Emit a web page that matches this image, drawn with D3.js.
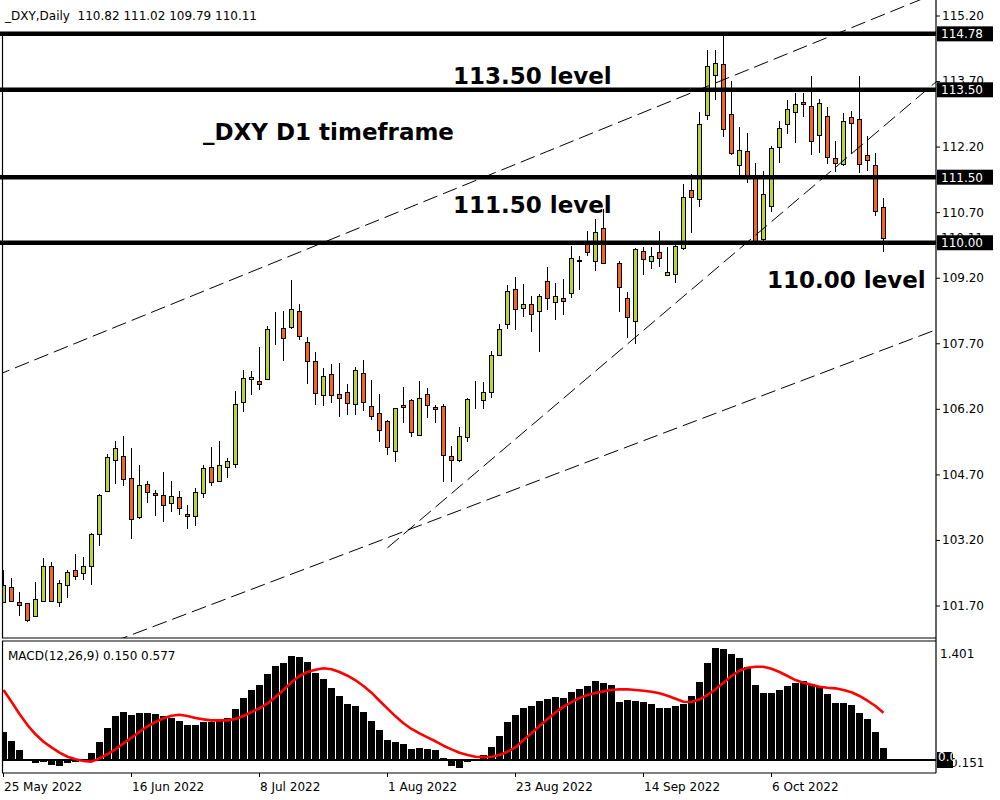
<!DOCTYPE html>
<html><head><meta charset="utf-8">
<script src="https://cdn.jsdelivr.net/npm/d3@7"></script>
<style>
html,body{margin:0;padding:0;background:#fff;}
svg{display:block;}
text{font-family:"DejaVu Sans",Verdana,sans-serif;}
</style></head><body>
<svg id="chart" width="1000" height="800"></svg>
<script>
// ---------- DATA ----------
const open  = [101.78,102.12,101.77,101.75,101.45,101.80,102.60,101.77,102.16,102.51,102.44,102.60,103.33,104.31,105.02,105.11,104.61,103.72,104.47,104.27,
104.22,104.04,104.18,103.79,103.74,104.27,104.86,104.54,104.86,104.93,106.35,106.88,106.83,106.88,107.99,108.04,108.07,108.43,107.74,107.29,
106.51,106.99,106.53,106.58,106.30,107.01,106.26,106.10,105.92,105.23,106.28,106.40,105.59,106.53,106.24,106.26,105.11,105.04,105.55,106.37,
106.40,106.58,107.43,108.14,108.94,108.51,108.60,108.44,109.12,108.64,108.73,108.85,109.60,110.02,109.58,110.34,110.03,109.53,108.73,108.21,
109.81,109.58,109.79,109.26,109.28,109.89,111.20,110.99,112.92,113.83,114.08,112.94,111.77,112.09,111.50,110.08,110.83,112.18,112.71,112.99,
113.21,113.14,112.46,112.89,111.93,111.80,112.87,112.83,112.00,111.77,110.82];
const high  = [102.51,102.32,102.00,101.76,102.24,102.79,102.70,102.28,102.51,102.88,102.81,103.37,104.24,105.16,105.46,105.57,105.30,104.91,104.54,104.34,
104.75,104.56,104.31,104.01,104.38,104.91,105.32,105.46,105.07,106.60,107.08,107.06,107.61,108.09,108.41,108.43,109.14,108.59,107.84,107.49,
107.13,107.22,107.24,106.76,107.15,107.31,106.85,106.53,105.95,106.23,106.69,106.42,106.83,106.67,106.28,106.31,105.34,105.78,106.45,106.84,
106.81,107.52,108.14,109.03,109.22,109.05,108.78,108.83,109.45,109.08,109.17,109.92,109.70,110.27,110.54,110.77,110.05,109.58,108.87,109.87,
109.90,109.90,110.27,109.90,109.99,111.34,111.57,112.99,114.40,114.40,114.73,113.69,112.64,112.51,111.82,111.64,112.21,112.78,113.26,113.42,
113.42,113.81,113.28,113.10,112.32,112.96,113.01,113.81,112.44,112.05,111.02];
const low   = [101.76,101.80,101.46,101.33,101.43,101.79,101.77,101.67,101.88,102.28,102.29,102.17,103.07,104.29,104.49,104.44,103.23,103.67,104.04,103.74,
103.62,103.85,103.76,103.44,103.53,104.15,104.43,104.53,104.61,104.84,106.13,106.52,106.64,106.87,107.67,107.29,108.02,107.77,106.76,106.28,
106.26,106.33,106.01,106.07,106.07,106.14,105.94,105.43,105.14,104.98,105.87,105.55,105.58,105.98,105.87,104.53,104.53,104.98,105.45,106.20,
106.20,106.45,107.41,108.02,108.00,108.30,107.96,107.50,108.46,108.23,108.35,108.73,108.92,109.70,109.35,109.51,109.95,108.41,107.82,107.68,
109.26,109.40,109.45,109.24,109.08,109.83,110.22,110.82,112.82,113.26,112.43,112.00,111.54,111.36,110.02,110.05,110.71,111.83,112.48,112.28,
112.88,112.00,112.05,111.80,111.61,111.75,112.02,111.59,111.64,110.62,109.79];
const close = [102.16,101.81,101.72,101.36,101.84,102.60,101.80,102.21,102.46,102.37,102.60,103.33,104.22,105.09,105.30,104.59,103.67,104.45,104.29,104.22,
104.01,104.20,103.92,103.74,104.29,104.84,104.52,104.91,105.00,106.30,106.90,106.92,106.76,108.02,107.98,107.81,108.48,107.86,107.29,106.56,
106.94,106.51,106.44,106.33,107.08,106.35,106.03,105.71,105.32,106.21,106.24,105.66,106.44,106.28,106.19,105.14,105.02,105.57,106.42,106.38,
106.58,107.43,108.02,108.90,108.48,108.60,108.37,108.78,108.73,108.78,108.67,109.65,109.58,109.79,110.25,109.54,109.97,108.99,108.30,109.86,
109.63,109.70,109.65,109.33,109.92,111.04,111.04,112.71,114.04,114.11,112.60,112.05,112.12,111.53,110.04,111.11,112.16,112.62,113.05,113.17,
113.17,112.32,113.19,111.96,111.82,112.78,112.73,111.80,111.89,110.72,110.11];

const macd = [0.345,0.235,0.122,0.010,-0.040,-0.025,-0.060,-0.073,-0.040,-0.020,0.010,0.080,0.220,0.386,0.536,0.585,0.548,0.572,0.572,0.560,
0.532,0.512,0.475,0.426,0.426,0.463,0.463,0.475,0.508,0.621,0.755,0.853,0.914,1.047,1.145,1.177,1.267,1.255,1.194,1.060,
0.987,0.877,0.780,0.682,0.658,0.585,0.475,0.365,0.244,0.219,0.191,0.134,0.146,0.134,0.122,0.024,-0.073,-0.097,-0.024,0.008,
0.057,0.158,0.292,0.463,0.548,0.633,0.658,0.719,0.743,0.767,0.755,0.828,0.865,0.901,0.962,0.938,0.914,0.706,0.731,0.719,
0.706,0.682,0.633,0.633,0.658,0.682,0.780,0.950,1.181,1.364,1.352,1.291,1.242,1.133,0.914,0.816,0.816,0.853,0.901,0.938,
0.962,0.926,0.889,0.804,0.694,0.694,0.670,0.572,0.499,0.341,0.150];
const signal = [0.853,0.710,0.560,0.426,0.313,0.223,0.154,0.089,0.040,0.008,-0.012,-0.020,0.020,0.073,0.130,0.203,0.272,0.345,0.410,0.463,
0.508,0.540,0.552,0.536,0.512,0.495,0.483,0.483,0.483,0.499,0.536,0.585,0.630,0.690,0.767,0.853,0.946,1.023,1.072,1.100,
1.117,1.105,1.072,1.027,0.971,0.901,0.820,0.722,0.625,0.532,0.447,0.378,0.325,0.276,0.228,0.174,0.130,0.089,0.061,0.040,
0.035,0.040,0.061,0.101,0.154,0.244,0.325,0.414,0.499,0.580,0.650,0.706,0.755,0.792,0.816,0.836,0.853,0.861,0.861,0.853,
0.844,0.832,0.812,0.783,0.747,0.710,0.706,0.739,0.792,0.861,0.942,1.023,1.088,1.124,1.136,1.136,1.112,1.072,1.023,0.974,
0.942,0.917,0.893,0.881,0.873,0.853,0.825,0.780,0.722,0.658,0.577];

const priceTicks = [115.20,113.70,112.20,110.70,109.20,107.70,106.20,104.70,103.20,101.70];
const levels = [114.78,113.50,111.50,110.00];
const levelNames = ["113.50 level","111.50 level","110.00 level"];
const lastPrice = 110.11;
const dateTickIdx = [0,16,32,48,64,80,96];
const dateTickLabels = ["25 May 2022","16 Jun 2022","8 Jul 2022","1 Aug 2022","23 Aug 2022","14 Sep 2022","6 Oct 2022"];
const macdTicks = [1.401,-0.151];
// trend lines: [barIndex, price] anchors
const trendA = [[0,107.03],[108,115.07]];
const trendB = [[15,100.96],[116,107.97]];
const trendC = [[48,103.02],[110,112.66]];
const headerText = "_DXY,Daily  110.82 111.02 109.79 110.11";
const macdText = "MACD(12,26,9) 0.150 0.577";

// ---------- LAYOUT ----------
const svg = d3.select('#chart');
const axisX = 936, mainBottom = 638, macdTop = 641, macdBottom = 773;
const UP = '#bcd431', DOWN = '#f26522';
const x  = d3.scaleLinear().domain([0,110]).range([3.5,883.5]);
const y  = d3.scaleLinear().domain([101.7,115.2]).range([605.5,15.5]);
const ym = d3.scaleLinear().domain([-0.151,1.401]).range([772.4,645]);

svg.append('rect').attr('width',1000).attr('height',800).attr('fill','#fff');
const defs = svg.append('defs');
defs.append('clipPath').attr('id','clipMain').append('rect').attr('x',2).attr('y',0).attr('width',axisX-2).attr('height',mainBottom);
defs.append('clipPath').attr('id','clipMacd').append('rect').attr('x',2).attr('y',macdTop).attr('width',axisX-2).attr('height',macdBottom-macdTop);

const idx = d3.range(open.length);
const gMain = svg.append('g').attr('clip-path','url(#clipMain)');

// candles
gMain.selectAll('line.wick').data(idx).join('line')
  .attr('x1',i=>x(i)).attr('x2',i=>x(i))
  .attr('y1',i=>Math.round(y(high[i]))).attr('y2',i=>Math.round(y(low[i])))
  .attr('stroke','#000').attr('stroke-width',1);
gMain.selectAll('rect.body').data(idx).join('rect')
  .attr('x',i=>x(i)-2).attr('width',4)
  .attr('y',i=>Math.round(y(Math.max(open[i],close[i])))+0.5)
  .attr('height',i=>Math.max(0,Math.round(y(Math.min(open[i],close[i])))-Math.round(y(Math.max(open[i],close[i])))))
  .attr('fill',i=>close[i]>=open[i]?UP:DOWN)
  .attr('stroke','#000').attr('stroke-width',1);

// trend lines
function trendPath(a, from, to){
  const s = (a[1][1]-a[0][1])/(a[1][0]-a[0][0]);
  const p = k => a[0][1] + s*(k-a[0][0]);
  return [[x(from),y(p(from))],[x(to),y(p(to))]];
}
const tl = [trendPath(trendA,-1,125),trendPath(trendB,-1,125),trendPath(trendC,48,125)];
gMain.selectAll('path.trend').data(tl).join('path')
  .attr('d',d=>d3.line()(d)).attr('fill','none')
  .attr('stroke','#000').attr('stroke-width',1).attr('stroke-dasharray','15,6');

// level lines
svg.selectAll('line.level').data(levels).join('line')
  .attr('x1',0).attr('x2',axisX).attr('y1',d=>y(d)).attr('y2',d=>y(d))
  .attr('stroke','#000').attr('stroke-width',4.5);

// MACD
const gM = svg.append('g').attr('clip-path','url(#clipMacd)');
gM.selectAll('rect.h').data(idx).join('rect')
  .attr('x',i=>x(i)-3.5).attr('width',7)
  .attr('y',i=>Math.round(Math.min(ym(macd[i]),ym(0))))
  .attr('height',i=>Math.max(1,Math.round(Math.abs(ym(macd[i])-ym(0)))))
  .attr('fill','#000');
gM.append('line').attr('x1',0).attr('x2',axisX).attr('y1',ym(0)).attr('y2',ym(0)).attr('stroke','#000').attr('stroke-width',2);
gM.append('path').datum(idx)
  .attr('d',d3.line().x(i=>x(i)).y(i=>ym(signal[i])))
  .attr('fill','none').attr('stroke','#ff0000').attr('stroke-width',2.6).attr('stroke-linejoin','round');

// frames
const fr = svg.append('g').attr('stroke','#000').attr('stroke-width',1.2);
fr.append('line').attr('x1',axisX).attr('x2',axisX).attr('y1',0).attr('y2',macdBottom);
fr.append('line').attr('x1',2.5).attr('x2',2.5).attr('y1',35).attr('y2',mainBottom);
fr.append('line').attr('x1',2.5).attr('x2',2.5).attr('y1',macdTop).attr('y2',macdBottom);
fr.append('line').attr('x1',2).attr('x2',axisX).attr('y1',mainBottom).attr('y2',mainBottom);
fr.append('line').attr('x1',2).attr('x2',axisX).attr('y1',macdTop).attr('y2',macdTop);
fr.append('line').attr('x1',2).attr('x2',axisX).attr('y1',macdBottom).attr('y2',macdBottom);

// price axis
const ya = svg.append('g').attr('transform',`translate(${axisX},0)`)
  .call(d3.axisRight(y).tickValues(priceTicks).tickFormat(d3.format('.2f')).tickSize(4).tickPadding(2));
ya.select('.domain').remove();
ya.selectAll('text').attr('font-family','"DejaVu Sans",Verdana,sans-serif').attr('font-size',12).attr('fill','#000');

// last price label (partly hidden)
svg.append('text').attr('x',axisX+5).attr('y',y(lastPrice)).attr('dy','0.35em')
  .attr('font-size',12).attr('fill','#000').text(d3.format('.2f')(lastPrice));

// level boxes
const lb = svg.selectAll('g.lbox').data(levels).join('g');
lb.append('rect').attr('x',axisX+1).attr('y',d=>y(d)-7.5).attr('width',56).attr('height',15).attr('fill','#000');
lb.append('text').attr('x',axisX+5).attr('y',d=>y(d)).attr('dy','0.36em').attr('font-size',12).attr('fill','#fff')
  .text(d=>d3.format('.2f')(d));

// MACD axis
const ma = svg.append('g').attr('transform',`translate(${axisX},0)`)
  .call(d3.axisRight(ym).tickValues(macdTicks).tickFormat(d3.format('.3f')).tickSize(0).tickPadding(4));
ma.select('.domain').remove();
ma.selectAll('text').attr('font-family','"DejaVu Sans",Verdana,sans-serif').attr('font-size',12).attr('fill','#000')
  .attr('dy',d=>d>0?'1.05em':'-0.5em');
svg.append('rect').attr('x',axisX+1).attr('y',ym(0)-8).attr('width',16).attr('height',16).attr('fill','#000');
svg.append('text').attr('x',axisX+2).attr('y',ym(0)).attr('dy','0.1em').attr('font-size',12).attr('fill','#fff').text('0.00');

// date axis
const xa = svg.append('g').attr('transform',`translate(0,${macdBottom})`)
  .call(d3.axisBottom(x).tickValues(dateTickIdx).tickFormat((d,i)=>dateTickLabels[i]).tickSize(4).tickPadding(5));
xa.select('.domain').remove();
xa.selectAll('text').attr('font-family','"DejaVu Sans",Verdana,sans-serif').attr('font-size',12).attr('fill','#000')
  .attr('text-anchor','start').attr('x',0);
xa.selectAll('line').attr('transform','translate(-0.5,0)');

// header texts
svg.append('text').attr('x',5).attr('y',20).attr('font-size',12).style('white-space','pre').text(headerText);
svg.append('text').attr('x',8).attr('y',660).attr('font-size',12).style('white-space','pre').text(macdText);

// annotations
const ann = svg.append('g').attr('font-weight','bold').attr('font-size',23).attr('fill','#000');
ann.append('text').attr('x',453).attr('y',84).text(levelNames[0]);
ann.append('text').attr('x',203).attr('y',140).text('_DXY D1 timeframe');
ann.append('text').attr('x',453).attr('y',213).text(levelNames[1]);
ann.append('text').attr('x',767).attr('y',288).text(levelNames[2]);
</script>
</body></html>
